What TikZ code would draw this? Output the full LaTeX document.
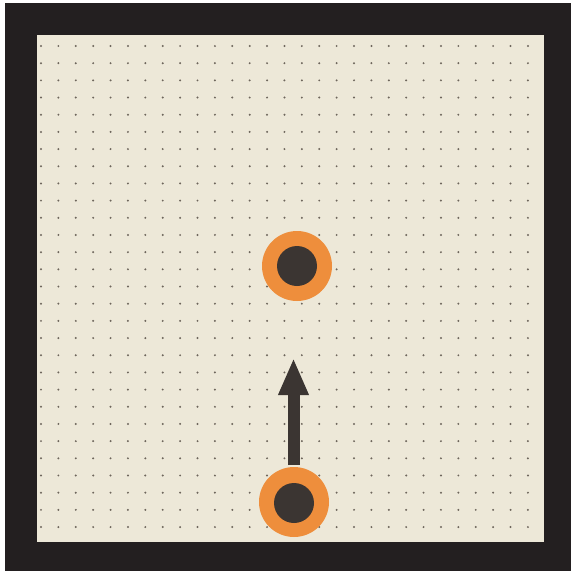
\documentclass[tikz,border=0pt]{standalone}
\usetikzlibrary{arrows.meta}
\definecolor{paper}{HTML}{EDE8D8}
\definecolor{frame}{HTML}{231F20}
\definecolor{ring}{HTML}{EE8E3C}
\definecolor{core}{HTML}{3B3532}
\definecolor{dotc}{HTML}{6E665C}
\tikzset{
  ringnode/.style={circle, fill=ring, draw=none, minimum size=70pt, inner sep=0pt},
  corenode/.style={circle, fill=core, draw=none, minimum size=40pt, inner sep=0pt},
  bigarrow/.style={draw=core, line width=12pt, -{Triangle[width=28pt,length=37pt]}, shorten >=0pt}
}
\begin{document}
\begin{tikzpicture}[x=1pt,y=-1pt]
\useasboundingbox (0,0) rectangle (571,571);
\fill[white] (0,0) rectangle (571,571);
\fill[frame] (5,3) rectangle (571,571);
\fill[paper] (37,35) rectangle (544,542);
\foreach \i in {0,...,28}{
  \foreach \j in {0,...,28}{
    \fill[dotc] ({41+\i*17.39},{46+\j*17.18}) circle (1.1pt);
  }
}
\node[ringnode] (ring1) at (297,266) {};
\node[corenode] (core1) at (297,266) {};
\node[ringnode] (ring2) at (294,502) {};
\node[corenode] (core2) at (294,503) {};
\coordinate (tail) at (293.5,465);
\coordinate (tip) at (293.5,358);
\draw[bigarrow] (tail) -- (tip);
\end{tikzpicture}
\end{document}
